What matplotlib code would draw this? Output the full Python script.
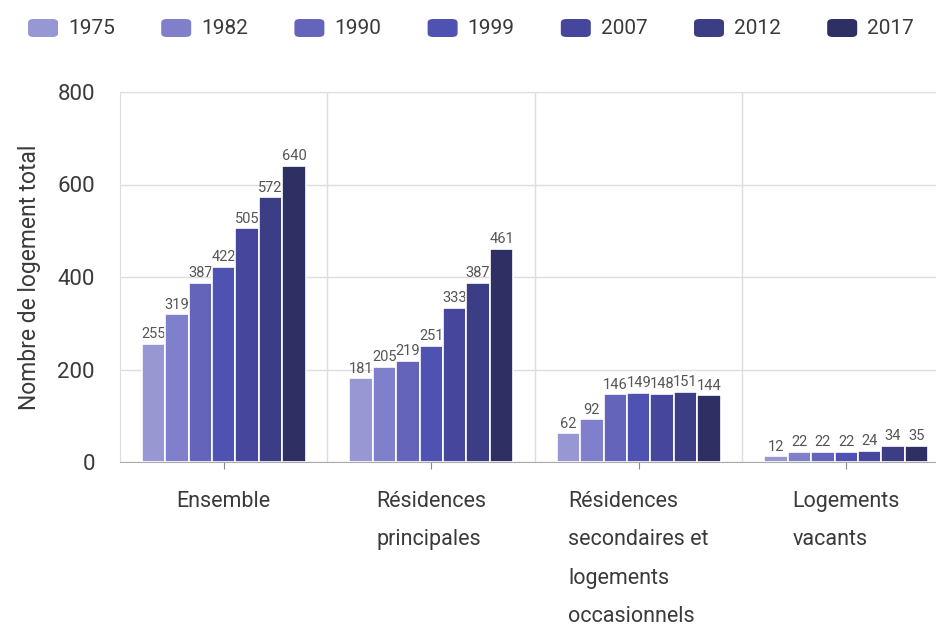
import numpy as np
import matplotlib.pyplot as plt
from matplotlib.patches import FancyBboxPatch

plt.rcParams['font.family'] = ['Roboto', 'DejaVu Sans']

categories = ["Ensemble", "Résidences\nprincipales",
              "Résidences\nsecondaires et\nlogements\noccasionnels",
              "Logements\nvacants"]
years = ["1975", "1982", "1990", "1999", "2007", "2012", "2017"]
ensemble = [255, 319, 387, 422, 505, 572, 640]
principales = [181, 205, 219, 251, 333, 387, 461]
secondaires = [62, 92, 146, 149, 148, 151, 144]
vacants = [12, 22, 22, 22, 24, 34, 35]
colors = ["#9797d3", "#7f7fcb", "#6464bb", "#4f52b0",
          "#46469c", "#3b3d85", "#2e2f63"]

values = np.array([ensemble, principales, secondaires, vacants])

fig = plt.figure(figsize=(9.37, 6.28), dpi=100)
W, H = 937, 628
ax = fig.add_axes([120 / W, 166 / H, 830 / W, 370 / H])

x = np.arange(len(categories))
group = 0.79
bw = group / len(years)
for i, year in enumerate(years):
    pos = x + (i - (len(years) - 1) / 2) * bw
    bars = ax.bar(pos, values[:, i], width=bw, color=colors[i],
                  edgecolor="white", linewidth=1.2, zorder=3, label=year)
    for b, v in zip(bars, values[:, i]):
        ax.text(b.get_x() + b.get_width() / 2, v + 6, str(v),
                ha="center", va="bottom", fontsize=10.5, color="#555555")

ax.set_xlim(-0.5, len(categories) - 0.5)
ax.set_ylim(0, 800)
ax.set_yticks([0, 200, 400, 600, 800])
ax.yaxis.grid(True, color="#dddddd", linewidth=1, zorder=0)
for b in np.arange(0.5, len(categories) - 0.5, 1):
    ax.axvline(b, color="#dddddd", linewidth=1, zorder=0)

for s in ["top", "right"]:
    ax.spines[s].set_visible(False)
ax.spines["left"].set_color("#dddddd")
ax.spines["bottom"].set_color("#aaaaaa")

ax.set_xticks(x)
ax.set_xticklabels(categories)
ax.tick_params(axis="x", length=5, color="#888888", pad=16,
               labelsize=15.5, labelcolor="#3a3a3a")
ax.tick_params(axis="y", length=0, pad=18, labelsize=16,
               labelcolor="#3a3a3a")
for lab in ax.get_xticklabels():
    lab.set_multialignment("left")
    lab.set_linespacing(2.08)

ax.set_ylabel("Nombre de logement total", fontsize=16.5, color="#3a3a3a",
              labelpad=12)

# legend row along the top
x0 = 28
step = 133.2
for i, year in enumerate(years):
    left = x0 + i * step
    box = FancyBboxPatch(((left) / W, 1 - 37 / H), 30 / W, 18 / H,
                         boxstyle="round,pad=0,rounding_size=0.006",
                         transform=fig.transFigure, facecolor=colors[i],
                         edgecolor="none")
    fig.patches.append(box)
    fig.text((left + 40) / W, 1 - 28 / H, year, ha="left", va="center",
             fontsize=15, color="#3a3a3a")

fig.savefig("out.png", dpi=100)
